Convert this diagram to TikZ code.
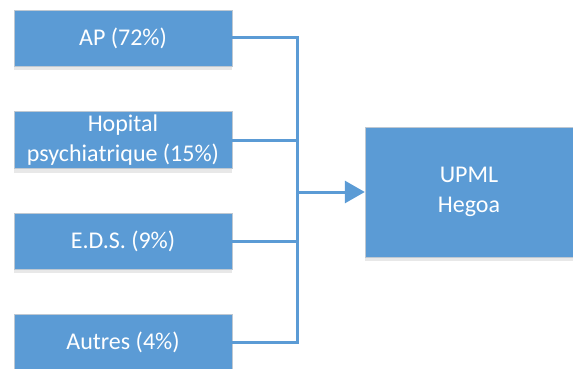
\documentclass[tikz,border=0pt]{standalone}
\usepackage{fontspec}
\setmainfont{Carlito}
\usepackage{xcolor}
\usetikzlibrary{shadows,arrows.meta}
\definecolor{officeblue}{RGB}{91,155,213}
\definecolor{rimgray}{RGB}{190,200,210}
\tikzstyle{source}=[rectangle, draw=rimgray, fill=officeblue, text=white, minimum width=218pt, minimum height=56pt, align=center, font=\fontsize{24}{30}\selectfont, drop shadow={opacity=0.18, shadow xshift=0pt, shadow yshift=-4pt}]
\tikzstyle{target}=[source, minimum width=208pt, minimum height=130pt]
\tikzstyle{link}=[line width=3pt, color=officeblue]
\begin{document}
\begin{tikzpicture}[x=1pt,y=-1pt]
  \useasboundingbox (0,0) rectangle (573,369);
  \draw (123,38) node[source] (AP) {AP (72\%)};
  \draw (123,140) node[source] (Hop) {Hopital\\psychiatrique (15\%)};
  \draw (123,241) node[source] (EDS) {E.D.S. (9\%)};
  \draw (123,342) node[source] (Autres) {Autres (4\%)};

  \draw (469,192) node[target] (UPML) {UPML\\Hegoa};

  \coordinate (bus) at (297,192);
  \draw[link] (AP.east) -| (bus);
  \draw[link] (Autres.east) -| (bus);
  \draw[link] (Hop.east) -- (Hop.east -| bus);
  \draw[link] (EDS.east) -- (EDS.east -| bus);
  \draw[link,-{Triangle[length=20pt,width=22pt]}] (bus) -- (UPML.west);
\end{tikzpicture}
\end{document}
